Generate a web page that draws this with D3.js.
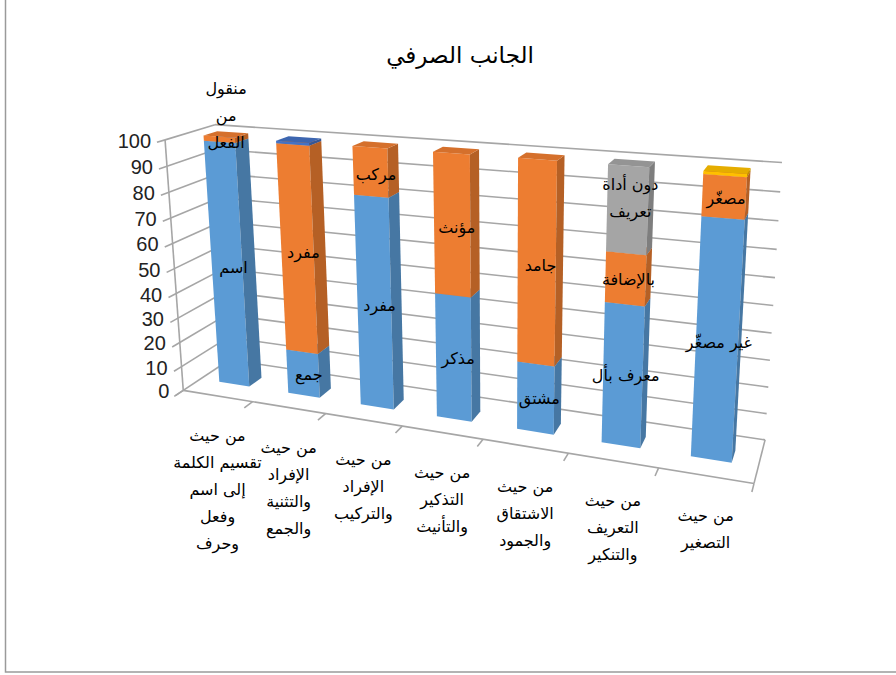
<!DOCTYPE html>
<html>
<head>
<meta charset="utf-8">
<script src="https://cdnjs.cloudflare.com/ajax/libs/d3/7.8.5/d3.min.js"></script>
<style>
  body { margin: 0; background: #fff; }
  svg { display: block; }
  .grid { stroke: #a6a6a6; stroke-width: 1.6; fill: none; }
  .ar { font-family: "DejaVu Sans", sans-serif; fill: #000; }
  .num { font-family: "Liberation Sans", Arial, sans-serif; fill: #222; }
</style>
</head>
<body>
<div id="graf"></div>
<script>
// categories (line breaks as in the picture)
const categories = [
  "من حيث\nتقسيم الكلمة\nإلى اسم\nوفعل\nوحرف",
  "من حيث\nالإفراد\nوالتثنية\nوالجمع",
  "من حيث\nالإفراد\nوالتركيب",
  "من حيث\nالتذكير\nوالتأنيث",
  "من حيث\nالاشتقاق\nوالجمود",
  "من حيث\nالتعريف\nوالتنكير",
  "من حيث\nالتصغير"
]

// stacked series, bottom to top
const serie1 = [98, 18, 82, 48, 26, 52, 85]
const serie2 = [2, 81, 18, 52, 74, 18, 14]
const serie3 = [0, 0, 0, 0, 0, 30, 0]
const serie4 = [0, 0, 0, 0, 0, 0, 1]
const serie5 = [0, 1, 0, 0, 0, 0, 0]

// data labels of each point
const labels1 = ["اسم", "جمع", "مفرد", "مذكر", "مشتق", "معرف بأل", "غير مصغّر"]
const labels2 = ["منقول\nمن\nالفعل", "مفرد", "مركب", "مؤنث", "جامد", "بالإضافة", "مصغّر"]
const labels3 = ["", "", "", "", "", "دون أداة\nتعريف", ""]

const yTicks = [0, 10, 20, 30, 40, 50, 60, 70, 80, 90, 100]
const titulo = "الجانب الصرفي"

const colores = ["#5b9bd5", "#ed7d31", "#a5a5a5", "#ffc000", "#4472c4"]

const anchoTotal = 896
const altoTotal = 675

const svg = d3.select("#graf")
  .append("svg")
  .attr("width", anchoTotal)
  .attr("height", altoTotal)

// chart area border
svg.append("rect")
  .attr("x", 5.5).attr("y", -5)
  .attr("width", 1000).attr("height", 677)
  .attr("fill", "none")
  .attr("stroke", "#9a9a9a")
  .attr("stroke-width", 1.5)

// ---- camera: where the box corners of the 3D plot land on the page ----
const calib = [
  [[0, 0, 0], [183, 390]],
  [[1, 0, 0], [753, 484]],
  [[1, 0, 1], [765, 440]],
  [[0, 1, 0], [165, 140]],
  [[0, 1, 1], [215, 125]],
  [[1, 1, 1], [782, 162]],
  [[3 / 7, 0, 0], [402, 426]],
  [[5 / 7, 0, 0], [570, 453]]
]

const cu = 450, cv = 300, cs = 300

function solve(A, b) {
  const n = b.length
  const M = A.map((r, i) => [...r, b[i]])
  for (let c = 0; c < n; c++) {
    let piv = c
    for (let r = c + 1; r < n; r++) if (Math.abs(M[r][c]) > Math.abs(M[piv][c])) piv = r
    const tmp = M[c]; M[c] = M[piv]; M[piv] = tmp
    for (let r = 0; r < n; r++) {
      if (r === c) continue
      const f = M[r][c] / M[c][c]
      for (let k = c; k <= n; k++) M[r][k] -= f * M[c][k]
    }
  }
  return M.map((r, i) => r[n] / r[i])
}

function fitCamera(pairs) {
  const rows = [], rhs = []
  pairs.forEach(([[X, Y, Z], [u0, v0]]) => {
    const u = (u0 - cu) / cs, v = (v0 - cv) / cs
    rows.push([X, Y, Z, 1, 0, 0, 0, 0, -u * X, -u * Y, -u * Z]); rhs.push(u)
    rows.push([0, 0, 0, 0, X, Y, Z, 1, -v * X, -v * Y, -v * Z]); rhs.push(v)
  })
  const N = d3.range(11).map(i => d3.range(11).map(j => d3.sum(rows, r => r[i] * r[j])))
  const t = d3.range(11).map(i => d3.sum(rows, (r, k) => r[i] * rhs[k]))
  return solve(N, t)
}

const P = fitCamera(calib)
const project = ([X, Y, Z]) => {
  const w = P[8] * X + P[9] * Y + P[10] * Z + 1
  return [
    cu + cs * (P[0] * X + P[1] * Y + P[2] * Z + P[3]) / w,
    cv + cs * (P[4] * X + P[5] * Y + P[6] * Z + P[7]) / w
  ]
}

// ---- scales in world space ----
const x = d3.scaleBand().domain(categories).range([0, 1]).paddingInner(0.56).paddingOuter(0.28)
const y = d3.scaleLinear().domain([0, 100]).range([0, 1])
const zFront = 0.36, zBack = 0.64

const line = d3.line()
const seg = (a, b) => line([project(a), project(b)])

const g = svg.append("g")

// side wall and back wall gridlines
yTicks.forEach(t => {
  g.append("path").attr("class", "grid").attr("d", seg([0, y(t), 0], [0, y(t), 1]))
  g.append("path").attr("class", "grid").attr("d", seg([0, y(t), 1], [1, y(t), 1]))
  // tick
  g.append("path").attr("class", "grid").attr("d", seg([0, y(t), 0], [0, y(t), -0.15]))
})
// value axis line and floor edges
g.append("path").attr("class", "grid").attr("d", seg([0, 0, 0], [0, 1, 0]))
g.append("path").attr("class", "grid").attr("d", seg([0, 0, 0], [1, 0, 0]))
g.append("path").attr("class", "grid").attr("d", seg([1, 0, 0], [1, 0, 1]))
// category ticks
d3.range(categories.length + 1).forEach(k => {
  const xk = k / categories.length
  g.append("path").attr("class", "grid").attr("d", seg([xk, 0, 0], [xk, 0, -0.18]))
})

// ---- stacked bars ----
const keys = ["s1", "s2", "s3", "s4", "s5"]
const series = [serie1, serie2, serie3, serie4, serie5]
const tabla = categories.map((c, i) => {
  const row = { cat: c }
  keys.forEach((k, j) => { row[k] = series[j][i] })
  return row
})
const stacked = d3.stack().keys(keys)(tabla)
const etiquetas = [labels1, labels2, labels3, null, null]

const poly = pts => "M" + pts.map(p => project(p).join(",")).join("L") + "Z"

const barras = svg.append("g")
categories.forEach((c, i) => {
  stacked.forEach((layer, j) => {
    const [v0, v1] = layer[i]
    if (v1 - v0 <= 0) return
    const x0 = x(c), x1 = x0 + x.bandwidth()
    const y0 = y(v0), y1 = y(v1)
    const col = d3.color(colores[j])
    // front
    barras.append("path")
      .attr("d", poly([[x0, y0, zFront], [x1, y0, zFront], [x1, y1, zFront], [x0, y1, zFront]]))
      .attr("fill", col.formatHex())
    // right side
    barras.append("path")
      .attr("d", poly([[x1, y0, zFront], [x1, y0, zBack], [x1, y1, zBack], [x1, y1, zFront]]))
      .attr("fill", col.darker(0.75).formatHex())
    // top
    barras.append("path")
      .attr("d", poly([[x0, y1, zFront], [x1, y1, zFront], [x1, y1, zBack], [x0, y1, zBack]]))
      .attr("fill", col.darker(0.3).formatHex())
  })
})

// ---- data labels ----
const rotulos = svg.append("g")
categories.forEach((c, i) => {
  stacked.forEach((layer, j) => {
    const lab = etiquetas[j] && etiquetas[j][i]
    if (!lab) return
    const [v0, v1] = layer[i]
    const xc = x(c) + x.bandwidth() / 2
    const [px, py] = project([xc, y((v0 + v1) / 2), 0.5])
    const lines = lab.split("\n")
    lines.forEach((ln, k) => {
      rotulos.append("text")
        .attr("class", "ar")
        .attr("x", px)
        .attr("y", py + 5 - (lines.length - 1 - k) * 27)
        .attr("text-anchor", "middle")
        .attr("dominant-baseline", "central")
        .attr("font-size", 16)
        .text(ln)
    })
  })
})

// ---- category labels ----
categories.forEach(c => {
  const [px, py] = project([x(c) + x.bandwidth() / 2, 0, 0])
  c.split("\n").forEach((ln, k) => {
    svg.append("text")
      .attr("class", "ar")
      .attr("x", px)
      .attr("y", py + 40 + k * 27)
      .attr("text-anchor", "middle")
      .attr("dominant-baseline", "central")
      .attr("font-size", 16)
      .text(ln)
  })
})

// ---- value axis labels ----
yTicks.forEach(t => {
  const [px, py] = project([0, y(t), 0])
  svg.append("text")
    .attr("class", "num")
    .attr("x", px - 14)
    .attr("y", py + 1)
    .attr("text-anchor", "end")
    .attr("dominant-baseline", "central")
    .attr("font-size", 20)
    .text(t)
})

// ---- title ----
svg.append("text")
  .attr("class", "ar")
  .attr("x", 460)
  .attr("y", 55)
  .attr("text-anchor", "middle")
  .attr("dominant-baseline", "central")
  .attr("font-size", 23)
  .text(titulo)
</script>
</body>
</html>
